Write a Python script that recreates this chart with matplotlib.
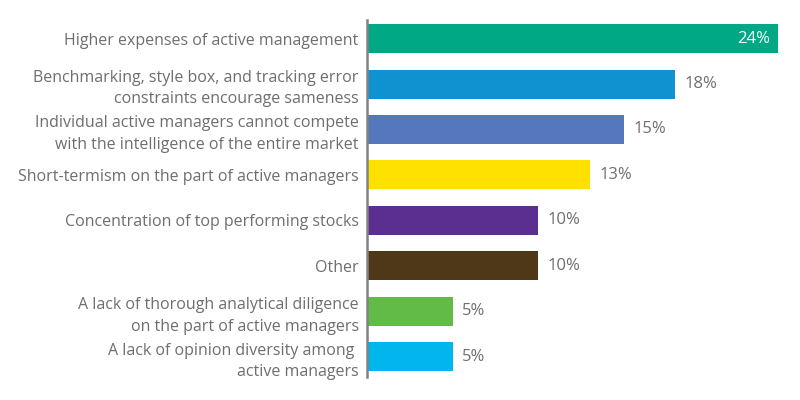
import matplotlib.pyplot as plt

# Reasons cited for active management underperformance
labels = [
    "Higher expenses of active management",
    "Benchmarking, style box, and tracking error\nconstraints encourage sameness",
    "Individual active managers cannot compete\nwith the intelligence of the entire market",
    "Short-termism on the part of active managers",
    "Concentration of top performing stocks",
    "Other",
    "A lack of thorough analytical diligence\non the part of active managers",
    "A lack of opinion diversity among \nactive managers",
]
values = [24, 18, 15, 13, 10, 10, 5, 5]
colors = ["#00A886", "#1192D0", "#5578BC", "#FFE100",
          "#5B2F8F", "#4E3818", "#62BB46", "#00B6EC"]

txt = "#6D6E71"
plt.rcParams['font.family'] = ['Open Sans', 'DejaVu Sans']

fig = plt.figure(figsize=(8, 4), dpi=100)
ax = fig.add_axes([0.45875, 0.0575, 0.99 - 0.45875, 0.95 - 0.0575])

y = list(range(len(values)))
ax.barh(y, values, height=0.64, color=colors)
ax.set_ylim(7.45, -0.41)
ax.set_xlim(0, 24.8)

ax.set_yticks(y)
ax.set_yticklabels(labels, fontsize=11.5, color=txt, linespacing=1.45)
ax.tick_params(axis='y', length=0, pad=6)
ax.set_xticks([])

for s in ['top', 'right', 'bottom']:
    ax.spines[s].set_visible(False)
ax.spines['left'].set_color("#808285")
ax.spines['left'].set_linewidth(1.8)

for i, v in enumerate(values):
    if i == 0:
        ax.text(v - 0.45, i, f"{v}%", va='center', ha='right',
                color='white', fontsize=12)
    else:
        ax.text(v + 0.55, i, f"{v}%", va='center', ha='left',
                color=txt, fontsize=12)

plt.savefig('out.png', dpi=100)
